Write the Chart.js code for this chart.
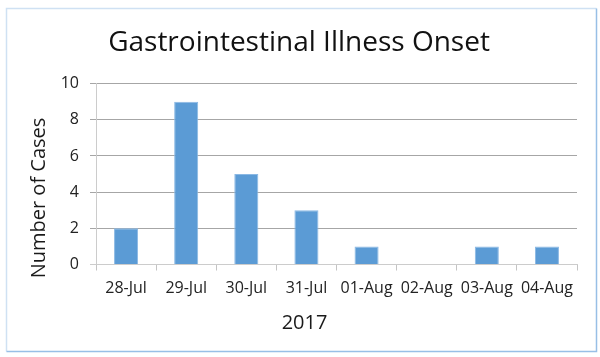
<!DOCTYPE html>
<html>
<head>
<meta charset="utf-8">
<script src="https://cdn.jsdelivr.net/npm/chart.js@4/dist/chart.umd.min.js"></script>
<style>
  html, body { margin: 0; padding: 0; background: #ffffff; }
  #wrap { position: relative; width: 600px; height: 357px; }
</style>
</head>
<body>
<div id="wrap"><canvas id="c" width="600" height="357"></canvas></div>
<script>
const chartTitle = 'Gastrointestinal Illness Onset';
const categories = ['28-Jul', '29-Jul', '30-Jul', '31-Jul', '01-Aug', '02-Aug', '03-Aug', '04-Aug'];
const cases = [2, 9, 5, 3, 1, 0, 1, 1];
const xAxisTitle = '2017';
const yAxisTitle = 'Number of Cases';
const yMin = 0, yMax = 10, yStep = 2;

const FONT = '"Open Sans", "Noto Sans", "DejaVu Sans", sans-serif';

const framePlugin = {
  id: 'frame',
  beforeDraw(chart) {
    const ctx = chart.ctx;
    ctx.save();
    ctx.fillStyle = '#ffffff';
    ctx.fillRect(0, 0, chart.width, chart.height);
    ctx.lineWidth = 1.5;
    // top and left (lighter)
    ctx.strokeStyle = '#cfe1f3';
    ctx.beginPath();
    ctx.moveTo(6.5, 351.5); ctx.lineTo(6.5, 8.5); ctx.lineTo(596.5, 8.5);
    ctx.stroke();
    // right and bottom (stronger)
    ctx.strokeStyle = '#98bfe6';
    ctx.beginPath();
    ctx.moveTo(596.5, 8.5); ctx.lineTo(596.5, 351.5); ctx.lineTo(6.5, 351.5);
    ctx.stroke();
    ctx.restore();
  },
  afterDraw(chart) {
    const ctx = chart.ctx;
    ctx.save();
    ctx.fillStyle = '#1a1a1a';
    ctx.font = '20px ' + FONT;
    ctx.textAlign = 'center';
    ctx.textBaseline = 'middle';
    ctx.fillText(xAxisTitle, 304.5, 323.5);
    ctx.translate(39.5, 198);
    ctx.rotate(-Math.PI / 2);
    ctx.fillText(yAxisTitle, 0, 0);
    ctx.restore();
  }
};

new Chart(document.getElementById('c'), {
  type: 'bar',
  data: {
    labels: categories,
    datasets: [{
      data: cases,
      backgroundColor: '#5b9bd5',
      borderColor: '#8ab8e4',
      borderWidth: 1,
      barPercentage: 0.4,
      categoryPercentage: 1.0
    }]
  },
  plugins: [framePlugin],
  options: {
    responsive: false,
    animation: false,
    devicePixelRatio: 1,
    layout: { padding: { left: 21, right: 23, top: 0, bottom: 0 } },
    plugins: {
      legend: { display: false },
      tooltip: { enabled: false },
      title: {
        display: true,
        text: chartTitle,
        color: '#111111',
        font: { family: FONT, size: 28, weight: 'normal' },
        padding: { top: 26, bottom: 24 }
      }
    },
    scales: {
      x: {
        afterFit(s) { s.height = 92.5; },
        grid: {
          display: true,
          drawOnChartArea: false,
          drawTicks: true,
          tickLength: 6,
          tickColor: '#c4c4c4',
          color: '#c4c4c4',
          offset: true
        },
        border: { display: true, color: '#cccccc', width: 1 },
        ticks: {
          color: '#222222',
          font: { family: FONT, size: 16 },
          padding: 8,
          maxRotation: 0,
          autoSkip: false
        },
        title: { display: false }
      },
      y: {
        min: yMin,
        max: yMax,
        afterFit(s) { s.width = 75; },
        grid: {
          color: (c) => (c.tick && c.tick.value === 0) ? '#cccccc' : '#a6a6a6',
          tickColor: (c) => (c.tick && c.tick.value === 0) ? '#cccccc' : '#a6a6a6',
          tickLength: 6,
          drawTicks: true
        },
        border: { display: true, color: '#cccccc', width: 1 },
        ticks: {
          stepSize: yStep,
          color: '#222222',
          font: { family: FONT, size: 16 },
          padding: 11
        },
        title: { display: false }
      }
    }
  }
});
</script>
</body>
</html>
